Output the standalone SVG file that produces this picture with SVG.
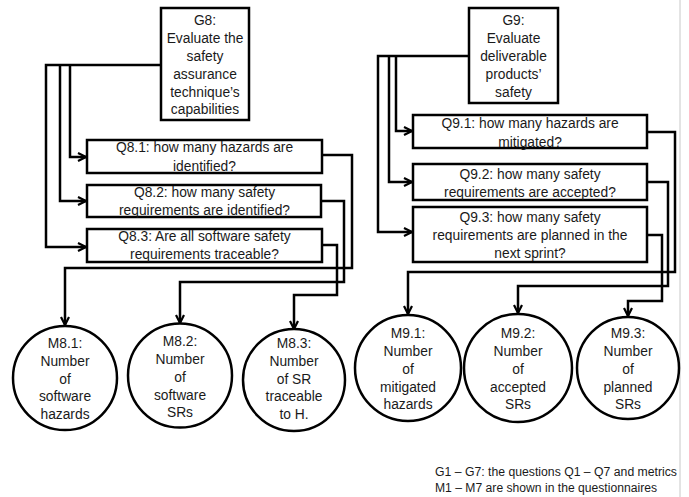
<svg xmlns="http://www.w3.org/2000/svg" width="689" height="497" viewBox="0 0 689 497">
<style>
.box{fill:#fff;stroke:#000;stroke-width:2.5}
.c{fill:#fff;stroke:#000;stroke-width:2.5}
.t{font-family:"Liberation Sans",Arial,sans-serif;font-size:13.8px;fill:#1a1a1a;text-anchor:middle}
.n{font-family:"Liberation Sans",Arial,sans-serif;font-size:12px;fill:#1a1a1a}
.ln{fill:none;stroke:#000;stroke-width:2.5}
</style>
<defs>
<marker id="ah" viewBox="0 0 10 10" refX="9" refY="5" markerWidth="10" markerHeight="10" markerUnits="userSpaceOnUse" orient="auto">
<path d="M1,1 L9,5 L1,9" fill="none" stroke="#000" stroke-width="2.2"/>
</marker>
</defs>
<rect width="689" height="497" fill="#fff"/>
<line x1="680" y1="0" x2="680" y2="497" stroke="#c8c8c8" stroke-width="1"/>

<g id="connectors">
<path class="ln" d="M161,65 H46 V247 H86" marker-end="url(#ah)"/>
<path class="ln" d="M70,65 V157 H86" marker-end="url(#ah)"/>
<path class="ln" d="M60,65 V201 H86" marker-end="url(#ah)"/>
<path class="ln" d="M322,155 H352 V268 H65 V325" marker-end="url(#ah)"/>
<path class="ln" d="M321,201 H344 V282 H180 V323" marker-end="url(#ah)"/>
<path class="ln" d="M322,245 H337 V295 H294 V329" marker-end="url(#ah)"/>
<path class="ln" d="M469,56 H378 V232 H412" marker-end="url(#ah)"/>
<path class="ln" d="M396,56 V131 H412" marker-end="url(#ah)"/>
<path class="ln" d="M389,56 V182 H412" marker-end="url(#ah)"/>
<path class="ln" d="M647,132 H675 V272 H408 V314" marker-end="url(#ah)"/>
<path class="ln" d="M647,182 H668 V286 H518 V313" marker-end="url(#ah)"/>
<path class="ln" d="M647,235 H662 V301 H628 V316" marker-end="url(#ah)"/>
</g>

<g id="G8">
<rect class="box" x="161" y="8" width="88" height="112"/>
<text class="t"><tspan x="205" y="25">G8:</tspan><tspan x="205" y="43">Evaluate the</tspan><tspan x="205" y="61">safety</tspan><tspan x="205" y="79">assurance</tspan><tspan x="205" y="97">technique’s</tspan><tspan x="205" y="114">capabilities</tspan></text>
</g>
<g id="Q8.1">
<rect class="box" x="87" y="140" width="235" height="33"/>
<text class="t"><tspan x="204.5" y="152">Q8.1: how many hazards are</tspan><tspan x="204.5" y="171">identified?</tspan></text>
</g>
<g id="Q8.2">
<rect class="box" x="87" y="185" width="234" height="32"/>
<text class="t"><tspan x="204.5" y="197">Q8.2: how many safety</tspan><tspan x="204.5" y="215">requirements  are identified?</tspan></text>
</g>
<g id="Q8.3">
<rect class="box" x="87" y="229" width="235" height="33"/>
<text class="t"><tspan x="204.5" y="241">Q8.3: Are all software safety</tspan><tspan x="204.5" y="259">requirements  traceable?</tspan></text>
</g>
<g id="M8.1">
<circle class="c" cx="65" cy="378" r="52"/>
<text class="t"><tspan x="65" y="348">M8.1:</tspan><tspan x="65" y="366">Number</tspan><tspan x="65" y="384">of</tspan><tspan x="65" y="401">software</tspan><tspan x="65" y="419">hazards</tspan></text>
</g>
<g id="M8.2">
<circle class="c" cx="180" cy="375.5" r="52"/>
<text class="t"><tspan x="180" y="346">M8.2:</tspan><tspan x="180" y="364">Number</tspan><tspan x="180" y="382">of</tspan><tspan x="180" y="400">software</tspan><tspan x="180" y="417">SRs</tspan></text>
</g>
<g id="M8.3">
<circle class="c" cx="294" cy="380" r="51"/>
<text class="t"><tspan x="294" y="348">M8.3:</tspan><tspan x="294" y="366">Number</tspan><tspan x="294" y="384">of SR</tspan><tspan x="294" y="401">traceable</tspan><tspan x="294" y="419">to H.</tspan></text>
</g>

<g id="G9">
<rect class="box" x="469" y="8" width="89" height="95"/>
<text class="t"><tspan x="513.5" y="25">G9:</tspan><tspan x="513.5" y="43">Evaluate</tspan><tspan x="513.5" y="61">deliverable</tspan><tspan x="513.5" y="79">products’</tspan><tspan x="513.5" y="97">safety</tspan></text>
</g>
<g id="Q9.1">
<rect class="box" x="413" y="115" width="234" height="33"/>
<text class="t"><tspan x="530" y="128">Q9.1: how many hazards are</tspan><tspan x="530" y="147">mitigated?</tspan></text>
</g>
<g id="Q9.2">
<rect class="box" x="413" y="164" width="234" height="36"/>
<text class="t"><tspan x="530" y="179">Q9.2: how many safety</tspan><tspan x="530" y="197">requirements  are accepted?</tspan></text>
</g>
<g id="Q9.3">
<rect class="box" x="413" y="207" width="234" height="55"/>
<text class="t"><tspan x="530" y="222">Q9.3: how many safety</tspan><tspan x="530" y="240">requirements  are planned in the</tspan><tspan x="530" y="258">next sprint?</tspan></text>
</g>
<g id="M9.1">
<circle class="c" cx="408" cy="368" r="53"/>
<text class="t"><tspan x="408" y="338">M9.1:</tspan><tspan x="408" y="356">Number</tspan><tspan x="408" y="374">of</tspan><tspan x="408" y="392">mitigated</tspan><tspan x="408" y="409">hazards</tspan></text>
</g>
<g id="M9.2">
<circle class="c" cx="518" cy="368" r="54"/>
<text class="t"><tspan x="518" y="338">M9.2:</tspan><tspan x="518" y="356">Number</tspan><tspan x="518" y="374">of</tspan><tspan x="518" y="392">accepted</tspan><tspan x="518" y="409">SRs</tspan></text>
</g>
<g id="M9.3">
<circle class="c" cx="628" cy="368" r="51"/>
<text class="t"><tspan x="628" y="338">M9.3:</tspan><tspan x="628" y="356">Number</tspan><tspan x="628" y="374">of</tspan><tspan x="628" y="392">planned</tspan><tspan x="628" y="409">SRs</tspan></text>
</g>

<g id="note">
<text class="n" x="435" y="476" textLength="242" lengthAdjust="spacingAndGlyphs">G1 – G7: the questions Q1 – Q7 and metrics</text>
<text class="n" x="435" y="492" textLength="222" lengthAdjust="spacingAndGlyphs">M1 – M7 are shown in the questionnaires</text>
</g>
</svg>
